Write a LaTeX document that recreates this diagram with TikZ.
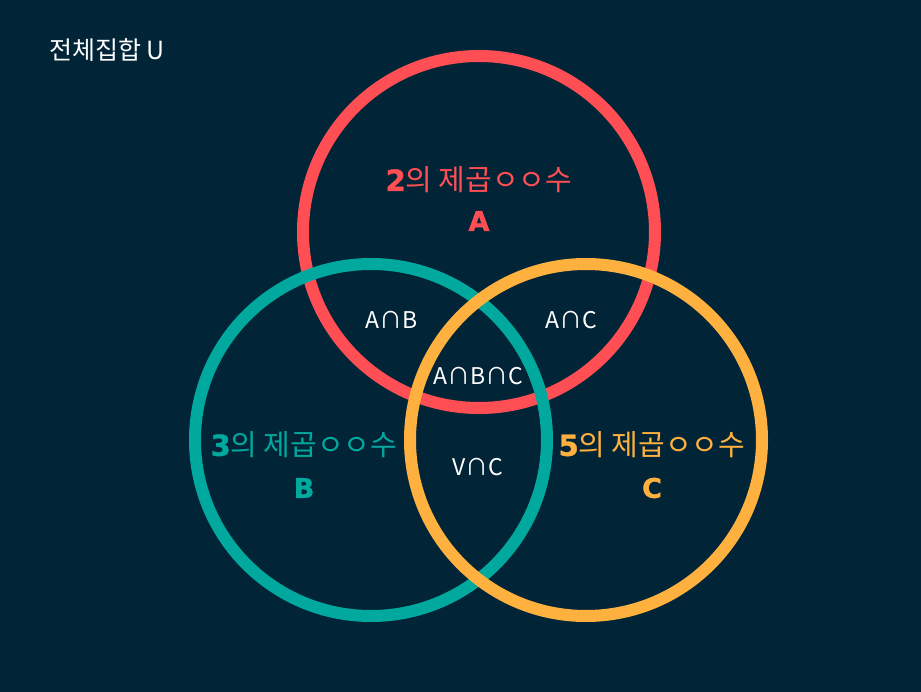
\documentclass[tikz,border=0pt]{standalone}
\usepackage{fontspec}
\newfontfamily\kr{Noto Sans CJK KR}
\newfontfamily\heavy{DejaVu Sans}[BoldFeatures={FakeBold=1.2}]
\definecolor{bg}{HTML}{022437}
\definecolor{setred}{HTML}{FF4F55}
\definecolor{setteal}{HTML}{00A89D}
\definecolor{setorange}{HTML}{FFB13F}
\tikzset{
  setcircle/.style={shape=circle,draw=#1,line width=12pt,minimum size=352pt,inner sep=0pt},
  setname/.style={text=#1,font=\kr\fontsize{29}{31}\selectfont},
  setletter/.style={text=#1,font=\heavy\bfseries\fontsize{27}{29}\selectfont},
  part/.style={text=white,font=\kr\fontsize{23}{25}\selectfont}
}
\begin{document}
\begin{tikzpicture}[x=1pt,y=-1pt]
    \fill[bg] (0,0) rectangle (921,692);
    \useasboundingbox (0,0) rectangle (921,692);
    \node[setcircle=setred] (A) at (479,232) {};
    \node[setcircle=setteal] (B) at (371,440) {};
    \node[setcircle=setorange] (C) at (586,440) {};
    \node[text=white,font=\kr\fontsize{25}{27}\selectfont,anchor=west,inner sep=0pt] (U) at (49,50) {전체집합 U};
    \node[setname=setred] (nameA) at (479,180) {{\heavy\bfseries 2}의 제곱ㅇㅇ수};
    \node[setletter=setred] (letterA) at (479,221) {A};
    \node[setname=setteal] (nameB) at (304,445) {{\heavy\bfseries 3}의 제곱ㅇㅇ수};
    \node[setletter=setteal] (letterB) at (304,488) {B};
    \node[setname=setorange] (nameC) at (652,445) {{\heavy\bfseries 5}의 제곱ㅇㅇ수};
    \node[setletter=setorange] (letterC) at (652,488) {C};
    \node[part] (AB) at (392,320) {A∩B};
    \node[part] (AC) at (571,320) {A∩C};
    \node[part] (ABC) at (478,376) {A∩B∩C};
    \node[part] (VC) at (478,467) {V∩C};
\end{tikzpicture}
\end{document}
